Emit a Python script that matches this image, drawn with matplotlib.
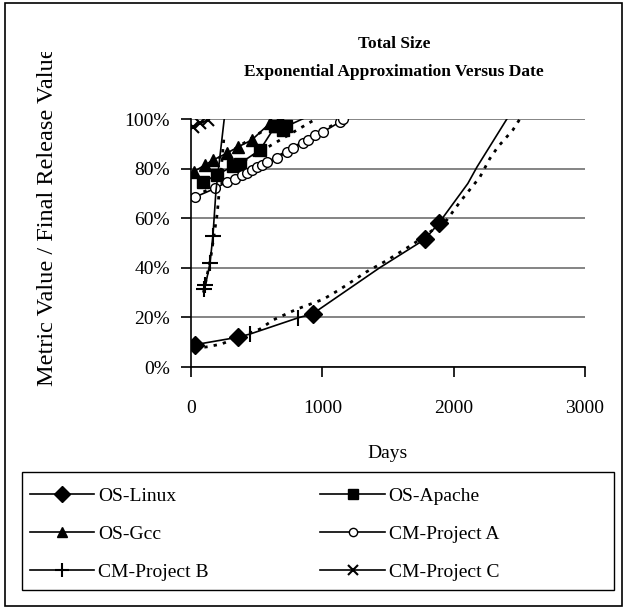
import matplotlib
matplotlib.use('Agg')
import matplotlib.pyplot as plt
from matplotlib.patches import Rectangle
from matplotlib.ticker import FuncFormatter
from matplotlib.transforms import Bbox

plt.rcParams['font.family'] = ['Liberation Serif', 'DejaVu Serif']

# --- measured series (days, fraction of final release value) ---
linux_days = [30, 358, 450, 814, 928, 1436, 1781, 1887, 2108, 2177, 2405, 2440]
linux_vals = [0.09, 0.12, 0.133, 0.198, 0.215, 0.40, 0.515, 0.58, 0.74, 0.806, 1.0, 1.03]
linux_marks = [0, 1, 4, 6, 7]
linux_ticks = [2, 3]

apache_days = [94, 196, 322, 370, 525, 640, 700, 725, 930]
apache_vals = [0.745, 0.775, 0.81, 0.82, 0.875, 0.97, 0.955, 0.97, 1.02]
apache_marks = [0, 1, 2, 3, 4, 5, 6, 7]

gcc_days = [23, 107, 170, 272, 360, 462, 601, 640, 677]
gcc_vals = [0.788, 0.815, 0.835, 0.862, 0.888, 0.915, 0.983, 0.97, 1.0]

proja_days = [30, 183, 274, 335, 388, 426, 464, 502, 540, 578, 654, 730, 776,
              852, 890, 944, 1005, 1134, 1157, 1233]
proja_vals = [0.685, 0.72, 0.746, 0.758, 0.774, 0.782, 0.794, 0.806, 0.815,
              0.827, 0.843, 0.867, 0.883, 0.903, 0.915, 0.935, 0.948, 0.988,
              1.0, 1.02]

projb_days = [99, 110, 145, 167, 190, 253, 260]
projb_vals = [0.315, 0.33, 0.42, 0.53, 0.71, 1.0, 1.04]
projb_marks = [0, 1, 2, 3]

projc_days = [15, 68, 129, 160]
projc_vals = [0.968, 0.984, 0.996, 1.01]
projc_marks = [0, 1, 2]

# --- exponential approximations ---
linux_fit_days = [30, 132, 233, 525, 627, 804, 1007, 1134, 1337, 1489, 1692,
                  1948, 2047, 2200, 2275, 2336, 2451, 2504]
linux_fit_vals = [0.075, 0.082, 0.093, 0.153, 0.19, 0.233, 0.273, 0.313, 0.384,
                  0.429, 0.496, 0.593, 0.665, 0.766, 0.84, 0.887, 0.956, 1.0]
apache_fit_days = [90, 500, 950]
apache_fit_vals = [0.74, 0.86, 1.0]
gcc_fit_days = [20, 350, 690]
gcc_fit_vals = [0.785, 0.885, 1.0]
proja_fit_days = [30, 600, 1160]
proja_fit_vals = [0.69, 0.83, 1.0]
projb_fit_days = [95, 150, 200, 250]
projb_fit_vals = [0.30, 0.44, 0.62, 0.92]
projc_fit_days = [10, 130]
projc_fit_vals = [0.965, 1.0]

W, H = 626, 609
fig = plt.figure(figsize=(W / 100, H / 100), dpi=100)
ax = fig.add_axes([191 / W, 1 - 367 / H, (585 - 191) / W, (367 - 119) / H])

lw = 1.2
dot = dict(color='black', lw=2.0, ls=(0, (1.2, 2.2)))
for d, v in [(linux_fit_days, linux_fit_vals), (apache_fit_days, apache_fit_vals),
             (gcc_fit_days, gcc_fit_vals), (proja_fit_days, proja_fit_vals),
             (projb_fit_days, projb_fit_vals), (projc_fit_days, projc_fit_vals)]:
    ax.plot(d, v, **dot)

h_linux, = ax.plot(linux_days, linux_vals, color='black', lw=lw, marker='D',
                   ms=9, markevery=linux_marks, label='OS-Linux')
ax.plot([linux_days[i] for i in linux_ticks], [linux_vals[i] for i in linux_ticks],
        ls='none', marker='|', ms=11, mew=1.5, color='black')
h_apache, = ax.plot(apache_days, apache_vals, color='black', lw=lw, marker='s',
                    ms=8.5, markevery=apache_marks, label='OS-Apache')
h_gcc, = ax.plot(gcc_days, gcc_vals, color='black', lw=lw, marker='^', ms=9,
                 label='OS-Gcc')
h_proja, = ax.plot(proja_days, proja_vals, color='black', lw=lw, marker='o', ms=7,
                   mfc='white', mew=1.0,
                   markevery=list(range(len(proja_days) - 1)),
                   label='CM-Project A')
h_projb, = ax.plot(projb_days, projb_vals, color='black', lw=lw, marker='+',
                   ms=12, mew=1.5, markevery=projb_marks, label='CM-Project B')
h_projc, = ax.plot(projc_days, projc_vals, color='black', lw=lw, marker='x',
                   ms=9, mew=1.5, markevery=projc_marks, label='CM-Project C')

ax.set_xlim(0, 3000)
ax.set_ylim(0, 1.0)
ax.set_xticks([0, 1000, 2000, 3000])
ax.set_yticks([0, 0.2, 0.4, 0.6, 0.8, 1.0])
ax.yaxis.set_major_formatter(FuncFormatter(lambda v, p: '{:.0f}%'.format(v * 100)))
ax.grid(axis='y', color='#707070', lw=1.2)
ax.set_axisbelow(True)
for s in ['top', 'right']:
    ax.spines[s].set_visible(False)
for s in ['left', 'bottom']:
    ax.spines[s].set_linewidth(1.2)
ax.tick_params(direction='out', length=7, width=1.2, labelsize=14)
ax.tick_params(axis='x', pad=17)
ax.tick_params(axis='y', pad=8)

fig.text(394 / W, 1 - 44 / H, 'Total Size', ha='center', va='center',
         fontsize=12.5, fontweight='bold')
fig.text(394 / W, 1 - 72 / H, 'Exponential Approximation Versus Date',
         ha='center', va='center', fontsize=12.5, fontweight='bold')
fig.text(388 / W, 1 - 453 / H, 'Days', ha='center', va='center', fontsize=14)
yl = fig.text(48 / W, 1 - 386 / H, 'Metric Value / Final Release Value',
              rotation=90, ha='center', va='bottom', fontsize=17.5)
yl.set_clip_box(Bbox([[0, 0], [W, H - 52]]))
yl.set_clip_on(True)

# legend is filled row by row in the original
handles = [h_linux, h_gcc, h_projb, h_apache, h_proja, h_projc]
labels = [h.get_label() for h in handles]
leg = fig.legend(handles, labels, ncol=2, loc='upper left',
                 bbox_to_anchor=(30 / W, 1 - 487 / H), frameon=False,
                 fontsize=14, handlelength=3.3, handletextpad=0.2,
                 columnspacing=5.75, labelspacing=1.05, borderpad=0,
                 borderaxespad=0, markerscale=0.85)
fig.add_artist(Rectangle((22 / W, 1 - 590 / H), 592 / W, 118 / H,
                         transform=fig.transFigure, fill=False,
                         edgecolor='black', lw=1.0))
fig.add_artist(Rectangle((5 / W, 3 / H), 617 / W, 603 / H,
                         transform=fig.transFigure, fill=False,
                         edgecolor='black', lw=1.2))

fig.savefig('out.png', dpi=100)
